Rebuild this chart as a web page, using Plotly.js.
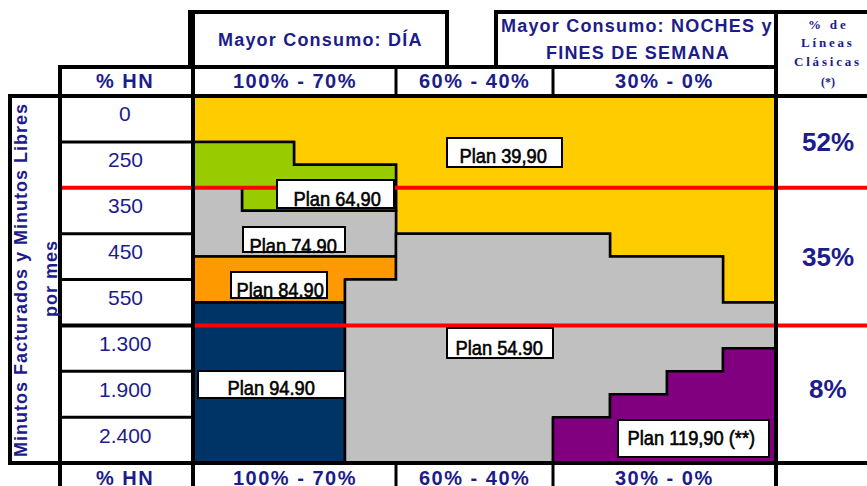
<!DOCTYPE html>
<html><head><meta charset="utf-8">
<script src="https://cdn.plot.ly/plotly-3.0.1.min.js"></script>
<style>html,body{margin:0;padding:0;background:#fff}</style>
</head><body>
<div id="chart" style="width:867px;height:486px"></div>
<script>
// ---------- data ----------
const minutes = ['0','250','350','450','550','1.300','1.900','2.400'];
const hnColumns = ['100%','90%','80%','70%','60%','50%','40%','30%','20%','10%','0%'];
const hnGroups = ['100% - 70%','60% - 40%','30% - 0%'];
const hnGroupFirstCol = [0,4,7];
const hnGroupLastCol = [3,6,10];
const consumoDia = 'Mayor Consumo: DÍA';
const consumoNoche = ['Mayor Consumo: NOCHES y','FINES DE SEMANA'];
const shareTitle = ['% de','Líneas','Clásicas','(*)'];
const shareValues = ['52%','35%','8%'];
const shareGroupRows = [[0,2],[2,5],[5,8]];   // row ranges of each share group
const yTitle1 = 'Minutos Facturados y Minutos Libres';
const yTitle2 = 'por mes';

const planNames = ['Plan 39,90','Plan 64,90','Plan 74.90','Plan 84.90','Plan 94.90','Plan 54.90','Plan 119,90 (**)'];
const n = null;
// region top / bottom per %HN column, in half-row units (0 = top of "0" row)
const plan3990Top = [0,0,0,0,0,0,0,0,0,0,0];
const plan3990Bot = [2,2,3,3,6,6,6,6,7,7,9];
const plan6490Top = [2,2,3,3,n,n,n,n,n,n,n];
const plan6490Bot = [4,5,5,5,n,n,n,n,n,n,n];
const plan7490Top = [4,5,5,5,n,n,n,n,n,n,n];
const plan7490Bot = [7,7,7,7,n,n,n,n,n,n,n];
const plan8490Top = [7,7,7,7,n,n,n,n,n,n,n];
const plan8490Bot = [9,9,9,8,n,n,n,n,n,n,n];
const plan9490Top = [9,9,9,n,n,n,n,n,n,n,n];
const plan9490Bot = [16,16,16,n,n,n,n,n,n,n,n];
const plan5490Top = [n,n,n,8,6,6,6,6,7,7,9];
const plan5490Bot = [n,n,n,16,16,16,16,14,13,12,11];
const plan11990Top = [n,n,n,n,n,n,n,14,13,12,11];
const plan11990Bot = [n,n,n,n,n,n,n,16,16,16,16];

// ---------- layout / style ----------
const planTops = [plan3990Top,plan6490Top,plan7490Top,plan8490Top,plan9490Top,plan5490Top,plan11990Top];
const planBots = [plan3990Bot,plan6490Bot,plan7490Bot,plan8490Bot,plan9490Bot,plan5490Bot,plan11990Bot];
const planColors = ['#FFCC00','#99CC00','#C0C0C0','#FF9900','#003366','#C0C0C0','#800080'];
const colEdges = [0,49,101,152,203,255,308,360,417,474,530,583]; // column edge positions on x axis
const W = 867, H = 486;
const AX0 = 193, AX1 = 776, AY0 = 96, AY1 = 463;
const NAVY = '#1c1c8a';
const SANS = 'Liberation Sans, Arial, sans-serif';
const px = v => v / W;
const py = v => 1 - v / H;

const traces = planNames.map((name, k) => {
  const top = planTops[k], bot = planBots[k];
  const cols = top.map((t, i) => t === null ? -1 : i).filter(i => i >= 0);
  const xs = [], ys = [];
  cols.forEach(i => { xs.push(colEdges[i], colEdges[i+1]); ys.push(top[i], top[i]); });
  cols.slice().reverse().forEach(i => { xs.push(colEdges[i+1], colEdges[i]); ys.push(bot[i], bot[i]); });
  xs.push(xs[0]); ys.push(ys[0]);
  return {x: xs, y: ys, type: 'scatter', mode: 'lines', fill: 'toself',
          fillcolor: planColors[k], line: {color: '#000', width: 2.5},
          hoverinfo: 'skip', name: name};
});

const shapes = [];
function seg(x0,y0,x1,y1,w,c){
  shapes.push({type:'line', xref:'paper', yref:'paper', x0:px(x0), y0:py(y0), x1:px(x1), y1:py(y1),
               line:{color:c||'#000', width:w}});
}
// red group separators
const redStarts = [60, AX0];
[2,5].forEach((r, j) => {
  shapes.push({type:'line', xref:'paper', yref:'y', x0:px(redStarts[j]), x1:px(W), y0:r*2, y1:r*2,
               line:{color:'#ff0000', width:4}});
});
// header boxes
seg(190,12,447,12,4); seg(190,10,190,67,4); seg(447,10,447,67,4);
seg(496,12,W,12,4); seg(496,10,496,67,4);
seg(58,67,AX1,67,4);
seg(8,96,W,96,4);
seg(8,AY1,W,AY1,4);
seg(10,94,10,AY1+2,4);
seg(60,65,60,H,4);
seg(AX0,10,AX0,H,4);
seg(AX1,10,AX1,H,4);
seg(396,67,396,96,3); seg(553,67,553,96,3);
seg(396,AY1,396,H,3); seg(553,AY1,553,H,3);
// left column row separators
const rowPx = r => AY0 + r*(AY1-AY0)/8;
[1,3,4,6,7].forEach(r => seg(60,rowPx(r),AX0,rowPx(r),3));
seg(60,rowPx(5),AX0,rowPx(5),4);
// plan label boxes: [x0, y0, x1, y1]
const planBoxes = [[447,138,562,167],[277,180,394,208],[243,227,345,252],[231,272,327,298],
                   [198,371,345,398],[447,328,553,358],[618,420,769,457]];
planBoxes.forEach(b => shapes.push({type:'rect', xref:'paper', yref:'paper',
  x0:px(b[0]), x1:px(b[2]), y0:py(b[1]), y1:py(b[3]), fillcolor:'#fff', line:{color:'#000', width:2}}));

const ann = [];
function txt(t,x,y,size,opts,bold,spacing,family){
  let s = t;
  if (spacing) s = '<span style="letter-spacing:'+spacing+'px">'+s+'</span>';
  if (bold) s = '<b>'+s+'</b>';
  ann.push(Object.assign({text:s, xref:'paper', yref:'paper', x:px(x), y:py(y), showarrow:false,
    xanchor:'center', yanchor:'middle', font:{family:family||SANS, size:size, color:NAVY}}, opts||{}));
}
// top headers
txt(consumoDia, 320, 39, 18, {}, true, 1.2);
txt(consumoNoche[0], 637, 26, 18, {}, true, 1.2);
txt(consumoNoche[1], 638, 53, 18, {}, true, 1.2);
const shareTitleY = [24,43,61,82];
shareTitle.forEach((t, i) => txt(t, 828, shareTitleY[i], i === 3 ? 12 : 13, {}, true, i === 3 ? 0 : 2.8, 'Liberation Serif, serif'));
// %HN header rows (top and bottom)
[81, 478].forEach(yy => {
  txt('% HN', 125, yy, 20, {}, true, 1.5);
  hnGroups.forEach((g, j) => {
    const cx = AX0 + (colEdges[hnGroupFirstCol[j]] + colEdges[hnGroupLastCol[j]+1]) / 2;
    txt(g, cx, yy, 20, {}, true, 1.5);
  });
});
// row labels
minutes.forEach((m, r) => {
  ann.push({text:m, xref:'paper', yref:'y', x:px(125), xanchor:'center', yanchor:'middle',
            y:r*2+1, yshift:5, showarrow:false, font:{family:SANS, size:21, color:NAVY}});
});
// share values
const shareShift = [0, 0, 5];
shareValues.forEach((s, j) => {
  ann.push({text:'<b>'+s+'</b>', xref:'paper', yref:'y', x:px(828), xanchor:'center', yanchor:'middle',
            y:(shareGroupRows[j][0]+shareGroupRows[j][1]), yshift:shareShift[j], showarrow:false,
            font:{family:SANS, size:26, color:NAVY}});
});
// y title
txt(yTitle1, 21, 280, 18, {textangle:-90}, true, 1);
txt(yTitle2, 51, 279, 18, {textangle:-90}, true, 1);
// plan label texts: [cx, cy]
const planTextPos = [[503,155.5],[337,198.5],[293,245],[279.5,289.5],[271,387.5],[499.5,347.5],[691,437.5]];
const planAnnStart = ann.length;
planNames.forEach((p, k) => {
  const c = planTextPos[k];
  ann.push({text:p, xref:'paper', yref:'paper', x:px(c[0]), y:py(c[1]), showarrow:false,
    xanchor:'center', yanchor:'middle', font:{family:SANS, size:21, color:'#000'}});
});

const layout = {
  width: W, height: H, margin:{l:0,r:0,t:0,b:0},
  paper_bgcolor:'#fff', plot_bgcolor:'#fff', showlegend:false,
  xaxis:{domain:[px(AX0), px(AX1)], range:[0, colEdges[colEdges.length-1]], visible:false, fixedrange:true},
  yaxis:{domain:[py(AY1), py(AY0)], range:[16, 0], visible:false, fixedrange:true},
  shapes: shapes, annotations: ann
};
function narrow(){
  document.querySelectorAll('#chart g.annotation').forEach(g => {
    const i = +g.getAttribute('data-index');
    if (i >= planAnnStart) {
      const t = g.querySelector('text');
      if (t) {
        t.style.transformBox = 'fill-box'; t.style.transformOrigin = 'center'; t.style.transform = 'scaleX(0.87)';
        t.style.stroke = '#000'; t.style.strokeWidth = '0.6px';
      }
    }
  });
}
Plotly.newPlot('chart', traces, layout, {displayModeBar:false, staticPlot:true}).then(narrow);
</script>
</body></html>
